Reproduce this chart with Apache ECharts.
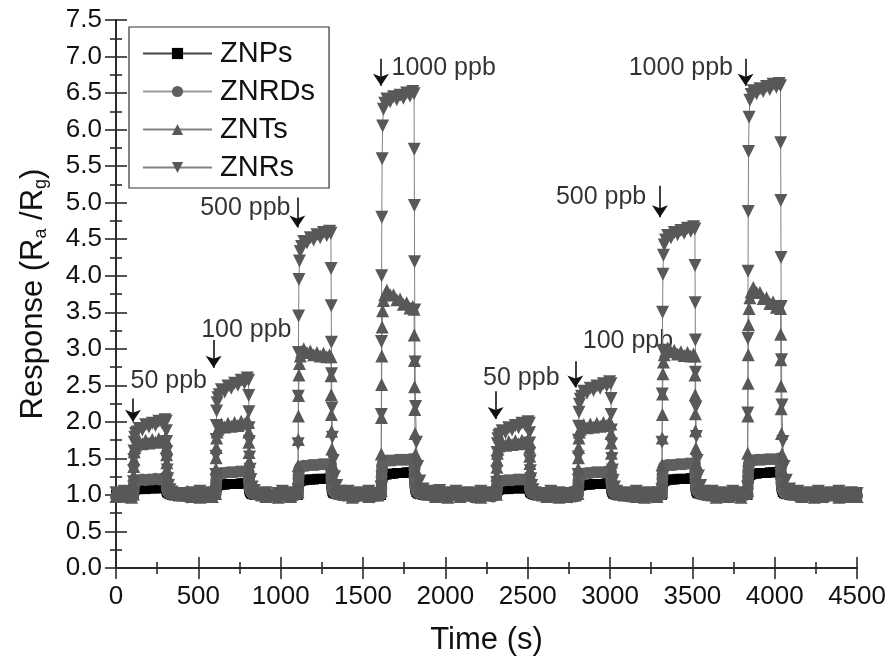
<!DOCTYPE html>
<html><head><meta charset="utf-8">
<script src="https://cdn.jsdelivr.net/npm/echarts@6/dist/echarts.min.js"></script>
<style>html,body{margin:0;padding:0;background:#fff}#c{width:889px;height:661px}</style>
</head><body><div id="c"></div>
<script>
// ---------- DATA ----------
const seriesNames = ['ZNPs', 'ZNRDs', 'ZNTs', 'ZNRs'];
const xTicks = [0, 500, 1000, 1500, 2000, 2500, 3000, 3500, 4000, 4500];
const yTicks = [0, 0.5, 1, 1.5, 2, 2.5, 3, 3.5, 4, 4.5, 5, 5.5, 6, 6.5, 7, 7.5];
// gas-on times (s) of the 8 exposures and sampling times inside each exposure (s after onset)
const pulseStart = [105, 605, 1105, 1610, 2310, 2805, 3315, 3835];
const pulseOffsets = [0,1,2,3,4,6,9,14,22,35,55,75,95,115,135,155,175,192,200,201,202,203,204,206,209,214,222,235,255,280];
// baseline (air) sample times
const baseTimes = [
  0,25,50,75,95,
  410,435,460,485,510,535,560,585,
  910,935,960,985,1010,1035,1060,1085,
  1410,1435,1460,1485,1510,1535,1560,1590,
  1915,1940,1965,1990,2015,2040,2065,2090,2115,2140,2165,2190,2215,2240,2265,2290,
  2615,2640,2665,2690,2715,2740,2765,2790,
  3110,3135,3160,3185,3210,3235,3260,3285,3300,
  3620,3645,3670,3695,3720,3745,3770,3795,3820,
  4140,4165,4190,4215,4240,4265,4290,4315,4340,4365,4390,4415,4440,4465,4490,4500];

const znpsBase = [
  1.00,1.01,0.99,1.00,1.01,
  1.00,0.99,1.01,1.00,1.00,0.99,1.01,1.00,
  1.01,1.00,0.99,1.00,1.01,1.00,0.99,1.00,
  1.00,1.01,1.00,0.99,1.00,1.01,1.00,1.00,
  1.01,1.00,0.99,1.00,1.01,1.00,1.00,0.99,1.01,1.00,1.00,1.01,0.99,1.00,1.01,1.00,
  1.00,1.01,1.00,0.99,1.00,1.01,1.00,1.00,
  1.01,1.00,0.99,1.00,1.01,1.00,1.00,0.99,1.00,
  1.00,1.01,1.00,0.99,1.00,1.01,1.00,1.00,1.01,
  1.00,0.99,1.01,1.00,1.00,1.01,0.99,1.00,1.01,1.00,0.99,1.00,1.01,1.00,1.00,1.01];
const znrdsBase = [
  0.98,1.00,0.97,1.01,0.99,
  0.99,0.97,1.00,0.98,1.01,0.99,0.97,1.00,
  0.98,1.00,0.99,0.97,1.00,0.98,1.01,0.99,
  1.00,0.98,0.97,1.00,0.99,1.01,0.98,0.99,
  0.99,1.01,0.98,1.00,0.97,0.99,1.01,0.98,1.00,0.99,0.97,1.00,0.98,1.01,0.99,0.98,
  1.00,0.98,0.99,1.01,0.97,1.00,0.99,0.98,
  0.98,1.00,0.99,0.97,1.01,0.99,0.98,1.00,0.99,
  0.99,1.01,0.98,1.00,0.97,0.99,1.00,0.98,1.00,
  0.98,1.00,0.99,1.01,0.97,0.99,1.00,0.98,1.01,0.99,0.97,1.00,0.98,0.99,1.01,0.99];
const zntsBase = [
  0.98,1.03,1.00,1.05,0.97,
  1.00,1.05,0.98,1.02,0.97,1.03,1.00,0.98,
  0.98,1.03,1.00,0.97,1.02,1.05,0.98,1.02,
  1.00,0.97,1.03,1.00,1.05,0.98,1.02,1.00,
  1.02,0.98,1.03,1.00,0.97,1.02,1.05,0.98,1.03,1.00,1.02,0.98,0.97,1.03,1.00,1.02,
  0.98,1.02,1.03,0.97,1.02,0.98,1.03,1.00,
  1.00,1.03,0.98,1.02,0.97,1.00,1.03,0.98,1.02,
  1.00,0.97,1.02,1.03,0.98,1.00,1.03,0.97,1.02,
  1.02,0.98,1.03,1.00,0.97,1.02,0.98,1.03,1.00,1.02,0.97,1.03,0.98,1.00,1.03,0.98];
const znrsBase = [
  1.03,0.98,1.05,1.00,1.02,
  1.02,0.97,1.03,1.00,1.05,0.98,1.02,1.03,
  1.03,1.00,0.97,1.02,1.05,1.00,1.03,0.98,
  1.05,1.02,0.98,1.03,1.00,1.05,0.97,1.02,
  1.05,1.02,1.06,1.00,1.03,0.98,1.05,1.02,1.00,1.03,0.97,1.02,1.05,1.00,1.03,0.98,
  1.02,1.05,0.98,1.03,1.00,1.02,0.97,1.03,
  1.03,1.00,1.05,0.98,1.02,1.03,0.97,1.00,1.03,
  1.05,1.00,1.03,0.98,1.02,1.05,1.00,1.03,0.98,
  1.05,1.02,0.98,1.03,1.00,1.05,1.02,0.97,1.03,1.00,1.05,0.98,1.02,1.03,1.00,1.02];

// responses during each exposure (one row per exposure, sampled at pulseOffsets)
const znpsPulse = [
  [1.00,1.02,1.03,1.04,1.05,1.07,1.07,1.08,1.08,1.08,1.09,1.08,1.09,1.09,1.09,1.09,1.10,1.10,1.10,1.09,1.07,1.06,1.05,1.04,1.03,1.02,1.01,1.00,1.00,1.00],
  [1.00,1.03,1.05,1.07,1.09,1.11,1.12,1.13,1.14,1.14,1.14,1.15,1.15,1.15,1.15,1.16,1.16,1.16,1.16,1.14,1.12,1.10,1.08,1.06,1.04,1.02,1.01,1.00,1.00,1.00],
  [1.00,1.04,1.07,1.10,1.13,1.16,1.18,1.19,1.20,1.20,1.21,1.21,1.21,1.22,1.22,1.22,1.22,1.23,1.23,1.20,1.17,1.14,1.11,1.08,1.05,1.03,1.02,1.01,1.00,1.00],
  [1.00,1.05,1.10,1.14,1.18,1.22,1.25,1.27,1.28,1.28,1.29,1.29,1.30,1.30,1.30,1.31,1.31,1.31,1.31,1.27,1.23,1.18,1.14,1.10,1.07,1.04,1.02,1.01,1.00,1.00],
  [1.00,1.02,1.03,1.04,1.05,1.06,1.07,1.07,1.08,1.08,1.08,1.08,1.09,1.09,1.09,1.09,1.09,1.10,1.10,1.09,1.07,1.06,1.05,1.04,1.03,1.02,1.01,1.00,1.00,1.00],
  [1.00,1.03,1.05,1.07,1.09,1.11,1.12,1.13,1.13,1.14,1.14,1.14,1.15,1.15,1.15,1.15,1.16,1.16,1.16,1.14,1.12,1.10,1.08,1.06,1.04,1.02,1.01,1.00,1.00,1.00],
  [1.00,1.04,1.07,1.10,1.13,1.16,1.18,1.19,1.20,1.21,1.21,1.21,1.22,1.22,1.22,1.22,1.23,1.23,1.23,1.20,1.17,1.14,1.11,1.08,1.05,1.03,1.02,1.01,1.00,1.00],
  [1.00,1.05,1.10,1.14,1.18,1.22,1.25,1.27,1.28,1.29,1.29,1.30,1.30,1.30,1.31,1.31,1.31,1.32,1.32,1.28,1.23,1.18,1.14,1.10,1.07,1.04,1.02,1.01,1.00,1.00]];
const znrdsPulse = [
  [1.00,1.04,1.08,1.11,1.14,1.16,1.18,1.19,1.20,1.20,1.21,1.20,1.21,1.21,1.22,1.21,1.22,1.22,1.22,1.19,1.16,1.13,1.10,1.07,1.05,1.03,1.02,1.01,1.00,1.00],
  [1.01,1.06,1.11,1.16,1.20,1.25,1.27,1.28,1.29,1.30,1.30,1.31,1.31,1.31,1.32,1.32,1.32,1.32,1.32,1.28,1.23,1.19,1.15,1.11,1.07,1.04,1.02,1.01,1.00,1.00],
  [1.01,1.08,1.15,1.22,1.27,1.33,1.36,1.38,1.39,1.40,1.40,1.41,1.41,1.41,1.42,1.42,1.42,1.42,1.42,1.36,1.30,1.24,1.19,1.14,1.09,1.05,1.03,1.01,1.00,1.00],
  [1.01,1.09,1.18,1.25,1.32,1.39,1.42,1.45,1.46,1.47,1.47,1.47,1.48,1.48,1.48,1.48,1.49,1.49,1.49,1.42,1.35,1.28,1.23,1.16,1.11,1.06,1.03,1.02,1.01,1.00],
  [1.00,1.04,1.07,1.10,1.13,1.16,1.17,1.18,1.19,1.19,1.20,1.20,1.20,1.21,1.21,1.21,1.21,1.22,1.22,1.19,1.16,1.13,1.10,1.07,1.05,1.03,1.02,1.01,1.00,1.00],
  [1.01,1.06,1.11,1.16,1.20,1.24,1.27,1.28,1.29,1.29,1.30,1.30,1.31,1.31,1.31,1.31,1.32,1.32,1.32,1.28,1.23,1.19,1.15,1.11,1.07,1.04,1.02,1.01,1.00,1.00],
  [1.01,1.08,1.15,1.22,1.28,1.34,1.37,1.39,1.40,1.41,1.41,1.41,1.42,1.42,1.42,1.43,1.43,1.43,1.43,1.37,1.31,1.25,1.19,1.14,1.09,1.05,1.03,1.01,1.00,1.00],
  [1.01,1.09,1.18,1.25,1.32,1.39,1.43,1.45,1.47,1.47,1.48,1.48,1.48,1.49,1.49,1.49,1.49,1.50,1.50,1.43,1.36,1.29,1.23,1.16,1.11,1.06,1.03,1.02,1.01,1.00]];
const zntsPulse = [
  [1.01,1.14,1.27,1.39,1.49,1.59,1.65,1.68,1.71,1.74,1.70,1.75,1.71,1.76,1.72,1.77,1.73,1.77,1.75,1.65,1.55,1.44,1.35,1.25,1.17,1.10,1.05,1.03,1.01,1.00],
  [1.02,1.19,1.36,1.51,1.65,1.78,1.86,1.90,1.93,1.97,1.93,1.98,1.94,1.99,1.95,2.01,1.97,2.02,1.99,1.86,1.72,1.58,1.46,1.33,1.22,1.13,1.07,1.04,1.02,1.00],
  [1.04,1.40,1.76,2.08,2.36,2.64,2.80,2.90,2.96,3.00,2.95,2.97,2.92,2.95,2.90,2.94,2.89,2.92,2.89,2.63,2.37,2.10,1.87,1.63,1.42,1.25,1.13,1.07,1.03,1.01],
  [1.06,1.56,2.06,2.51,2.90,3.30,3.52,3.66,3.74,3.80,3.74,3.74,3.67,3.68,3.61,3.63,3.56,3.58,3.54,3.19,2.84,2.48,2.17,1.84,1.56,1.33,1.18,1.09,1.04,1.01],
  [1.01,1.14,1.27,1.38,1.48,1.57,1.63,1.67,1.69,1.72,1.68,1.73,1.69,1.74,1.70,1.75,1.71,1.76,1.73,1.64,1.53,1.43,1.34,1.24,1.16,1.10,1.05,1.03,1.01,1.00],
  [1.02,1.19,1.36,1.51,1.65,1.78,1.86,1.90,1.93,1.96,1.92,1.97,1.93,1.98,1.94,1.99,1.95,2.00,1.97,1.84,1.71,1.57,1.45,1.32,1.22,1.13,1.07,1.03,1.01,1.00],
  [1.04,1.41,1.78,2.10,2.38,2.66,2.82,2.92,2.97,3.01,2.96,2.98,2.93,2.96,2.91,2.95,2.90,2.93,2.90,2.64,2.37,2.11,1.88,1.64,1.43,1.25,1.14,1.07,1.03,1.01],
  [1.06,1.57,2.08,2.53,2.92,3.33,3.55,3.70,3.78,3.84,3.77,3.77,3.69,3.70,3.62,3.64,3.57,3.59,3.55,3.20,2.85,2.49,2.18,1.84,1.56,1.33,1.18,1.09,1.04,1.01]];
const znrsPulse = [
  [1.02,1.18,1.33,1.48,1.60,1.72,1.79,1.84,1.86,1.91,1.89,1.96,1.93,1.98,1.95,2.01,1.98,2.03,2.01,1.88,1.73,1.59,1.47,1.34,1.22,1.13,1.07,1.04,1.02,1.01],
  [1.03,1.28,1.53,1.76,1.95,2.15,2.26,2.33,2.37,2.44,2.41,2.49,2.46,2.53,2.50,2.57,2.53,2.60,2.57,2.36,2.14,1.92,1.73,1.52,1.35,1.21,1.11,1.06,1.02,1.01],
  [1.07,1.70,2.35,2.95,3.45,3.95,4.20,4.33,4.40,4.47,4.45,4.52,4.49,4.56,4.52,4.59,4.55,4.61,4.58,4.10,3.59,3.09,2.66,2.19,1.79,1.47,1.25,1.13,1.05,1.02],
  [1.11,2.10,3.10,4.00,4.80,5.60,6.05,6.28,6.36,6.42,6.38,6.45,6.41,6.47,6.43,6.50,6.46,6.52,6.49,5.73,4.96,4.19,3.53,2.82,2.21,1.72,1.39,1.19,1.08,1.03],
  [1.02,1.17,1.32,1.46,1.58,1.70,1.77,1.81,1.83,1.88,1.85,1.92,1.89,1.95,1.92,1.98,1.95,2.00,1.98,1.85,1.71,1.57,1.46,1.33,1.22,1.13,1.07,1.03,1.01,1.00],
  [1.03,1.28,1.52,1.75,1.94,2.13,2.24,2.31,2.35,2.42,2.39,2.46,2.43,2.49,2.46,2.52,2.49,2.55,2.52,2.32,2.10,1.89,1.70,1.50,1.34,1.20,1.11,1.05,1.02,1.01],
  [1.07,1.72,2.38,2.98,3.50,4.02,4.28,4.42,4.49,4.55,4.52,4.59,4.56,4.62,4.58,4.65,4.61,4.67,4.64,4.14,3.63,3.12,2.68,2.20,1.80,1.47,1.26,1.13,1.05,1.02],
  [1.11,2.12,3.14,4.06,4.88,5.70,6.17,6.40,6.48,6.53,6.49,6.56,6.52,6.59,6.55,6.62,6.58,6.63,6.60,5.82,5.03,4.25,3.58,2.85,2.23,1.73,1.39,1.20,1.08,1.03]];

// annotations: text start time, response level, text; arrows: time, top, bottom
const annotText = ['50 ppb', '100 ppb', '500 ppb', '1000 ppb', '50 ppb', '100 ppb', '500 ppb', '1000 ppb'];
const annotTime = [85, 514, 508, 1670, 2226, 2831, 2668, 3110];
const annotValue = [2.56, 3.25, 4.93, 6.84, 2.6, 3.1, 5.08, 6.84];
const arrowTime = [103, 593, 1101, 1609, 2305, 2789, 3303, 3823];
const arrowTop = [2.32, 3.12, 5.07, 6.97, 2.42, 2.83, 5.23, 6.97];
const arrowBottom = [2.0, 2.74, 4.66, 6.6, 2.04, 2.47, 4.8, 6.6];

// ---------- BUILD ----------
function build(base, pulses) {
  const pts = [];
  const n = Math.min(base.length, baseTimes.length);
  for (let i = 0; i < n; i++) pts.push([baseTimes[i], base[i]]);
  pulseStart.forEach((T, k) => {
    const row = pulses[k];
    const m = Math.min(row.length, pulseOffsets.length);
    for (let j = 0; j < m; j++) pts.push([T + pulseOffsets[j], row[j]]);
  });
  pts.sort((a, b) => a[0] - b[0]);
  return pts;
}
const FONT = 'Liberation Sans, Arial, Helvetica, sans-serif';
const TXT = '#111111';
const chart = echarts.init(document.getElementById('c'), null, {renderer: 'canvas'});

const styles = {
  ZNPs:  {symbol: 'rect', size: 10, item: '#000000', line: '#444444', rot: 0},
  ZNRDs: {symbol: 'circle', size: 12, item: '#5f5f5f', line: '#9a9a9a', rot: 0},
  ZNTs:  {symbol: 'triangle', size: 13, item: '#585858', line: '#808080', rot: 0},
  ZNRs:  {symbol: 'triangle', size: 13, item: '#585858', line: '#808080', rot: 180}
};
const dataBy = {
  ZNPs: build(znpsBase, znpsPulse),
  ZNRDs: build(znrdsBase, znrdsPulse),
  ZNTs: build(zntsBase, zntsPulse),
  ZNRs: build(znrsBase, znrsPulse)
};

const series = seriesNames.map(name => ({
  name, type: 'line', data: dataBy[name],
  xAxisIndex: 0, yAxisIndex: 0,
  symbol: styles[name].symbol, symbolSize: styles[name].size, symbolRotate: styles[name].rot,
  showAllSymbol: true, showSymbol: true,
  itemStyle: {color: styles[name].item},
  lineStyle: {color: styles[name].line, width: 1},
  emphasis: {disabled: true}, animation: false
}));

series.push({
  type: 'scatter', xAxisIndex: 0, yAxisIndex: 0, silent: true,
  symbolSize: 1, itemStyle: {color: 'rgba(0,0,0,0)'},
  data: annotText.map((t, i) => [annotTime[i], annotValue[i], t]),
  label: {show: true, position: 'right', distance: 0, formatter: p => p.data[2],
          fontFamily: FONT, fontSize: 25, fontWeight: 'normal', color: '#000'},
  markLine: {
    silent: true, symbol: ['none', 'arrow'], symbolSize: 12,
    itemStyle: {color: '#111'},
    lineStyle: {color: '#111', width: 1.6, type: 'solid'},
    label: {show: false},
    data: arrowTime.map((t, i) => [{coord: [t, arrowTop[i]]}, {coord: [t, arrowBottom[i]]}])
  },
  animation: false
});

const axisCommon = {
  axisLine: {show: true, lineStyle: {color: '#2a2a2a', width: 1.8}},
  axisTick: {show: true, inside: true, length: 11, lineStyle: {color: '#2a2a2a', width: 1.6}},
  minorTick: {show: true, splitNumber: 2, length: 6, lineStyle: {color: '#2a2a2a', width: 1.6}},
  splitLine: {show: false}, minorSplitLine: {show: false}
};

chart.setOption({
  backgroundColor: '#ffffff',
  animation: false,
  grid: {left: 116, right: 29, top: 20, bottom: 92, containLabel: false},
  legend: {
    orient: 'vertical', left: 129, top: 27,
    data: seriesNames,
    itemWidth: 69, itemHeight: 14, itemGap: 9,
    padding: [12, 14, 6, 13],
    borderColor: '#333', borderWidth: 1.2, backgroundColor: '#fff',
    textStyle: {fontFamily: FONT, fontSize: 29, color: TXT, padding: [0, 0, 0, 3]},
    selectedMode: false
  },
  xAxis: [
    Object.assign({}, axisCommon, {
      type: 'value', position: 'bottom', min: xTicks[0], max: xTicks[xTicks.length - 1], interval: 500,
      axisLabel: {fontFamily: FONT, fontSize: 26, color: TXT, margin: 16, formatter: v => String(v)},
      name: 'Time (s)', nameLocation: 'middle', nameGap: 57,
      nameTextStyle: {fontFamily: FONT, fontSize: 31, color: TXT}
    }),
    Object.assign({}, axisCommon, {
      type: 'value', position: 'top', min: xTicks[0], max: xTicks[xTicks.length - 1], interval: 500,
      axisLabel: {show: false}
    })
  ],
  yAxis: [
    Object.assign({}, axisCommon, {
      type: 'value', position: 'left', min: yTicks[0], max: yTicks[yTicks.length - 1], interval: 0.5,
      axisLabel: {fontFamily: FONT, fontSize: 26, color: TXT, margin: 14, formatter: v => v.toFixed(1)},
      name: '{n|Response (R}{s|a}{n| /R}{s|g}{n|)}', nameLocation: 'middle', nameGap: 66,
      nameTextStyle: {fontFamily: FONT, fontSize: 31, color: TXT,
        rich: {n: {fontFamily: FONT, fontSize: 31, color: TXT},
               s: {fontFamily: FONT, fontSize: 18, color: TXT, verticalAlign: 'bottom', padding: [16, 0, 0, 0]}}}
    }),
    Object.assign({}, axisCommon, {
      type: 'value', position: 'right', min: yTicks[0], max: yTicks[yTicks.length - 1], interval: 0.5,
      axisLabel: {show: false}
    })
  ],
  series
});
</script>
</body></html>
